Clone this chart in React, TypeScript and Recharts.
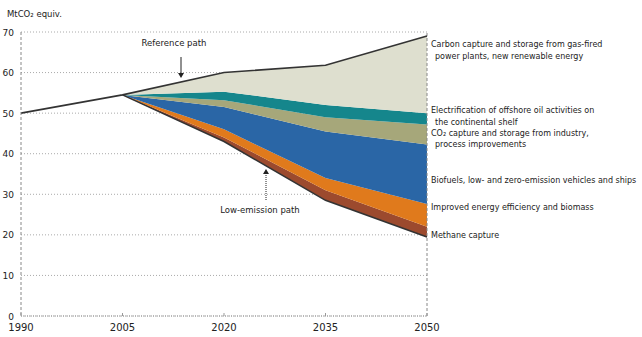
import React from 'react';
import { ComposedChart, Area, Line, XAxis, YAxis, CartesianGrid, ReferenceLine } from 'recharts';

// ---- data ----
const years = [1990, 2005, 2020, 2035, 2050];
const referencePath = [50, 54.5, 60, 61.8, 69];
const lowEmissionPath: (number | null)[] = [null, 54.5, 43, 28.5, 19.5];
// reductions per measure (MtCO2 equiv.), stacked from the low-emission path upward
const methaneCapture: (number | null)[] = [null, 0, 1, 2.5, 2.5];
const energyEfficiency: (number | null)[] = [null, 0, 2, 3, 5.6];
const biofuelsVehicles: (number | null)[] = [null, 0, 5.5, 11.5, 14.7];
const industryCcs: (number | null)[] = [null, 0, 1.7, 3.5, 4.9];
const offshoreElectrification: (number | null)[] = [null, 0, 2.1, 3, 2.8];
const gasPowerCcs: (number | null)[] = [null, 0, 4.7, 9.8, 19];
const yTicks = [0, 10, 20, 30, 40, 50, 60, 70];
const unitLabel = 'MtCO₂ equiv.';

const layers = [
  { key: 'methane', values: methaneCapture, color: '#9c4a2e' },
  { key: 'efficiency', values: energyEfficiency, color: '#e07a1c' },
  { key: 'biofuels', values: biofuelsVehicles, color: '#2a66a6' },
  { key: 'industry', values: industryCcs, color: '#a6a77a' },
  { key: 'electrification', values: offshoreElectrification, color: '#15868c' },
  { key: 'gasccs', values: gasPowerCcs, color: '#dedfcf' },
];

const rightLabels = [
  { lines: ['Carbon capture and storage from gas-fired', 'power plants, new renewable energy'], y: 44 },
  { lines: ['Electrification of offshore oil activities on', 'the continental shelf'], y: 110 },
  { lines: ['CO₂ capture and storage from industry,', 'process improvements'], y: 132.5 },
  { lines: ['Biofuels, low- and zero-emission vehicles and ships'], y: 180 },
  { lines: ['Improved energy efficiency and biomass'], y: 207 },
  { lines: ['Methane capture'], y: 235 },
];

const data = years.map((year, i) => {
  const row: any = { year, ref: referencePath[i], low: lowEmissionPath[i] };
  let base = lowEmissionPath[i];
  layers.forEach((l) => {
    const v = l.values[i];
    if (base === null || v === null) {
      row[l.key] = null;
    } else {
      row[l.key] = [base, base + v];
      base = base + v;
    }
  });
  return row;
});

const FONT = 'DejaVu Sans, Verdana, sans-serif';

const XTick = (props: any) => {
  const { x, y, payload } = props;
  return (
    <g>
      <line x1={x} x2={x} y1={y} y2={y - 3} stroke="#999" />
      <text x={x} y={y + 15} textAnchor="middle" fontSize={10} fontFamily={FONT} fill="#222">
        {payload.value}
      </text>
    </g>
  );
};

const YTick = (props: any) => {
  const { x, y, payload } = props;
  return (
    <text x={x - 7} y={y + 3.5} textAnchor="end" fontSize={9} fontFamily={FONT} fill="#222">
      {payload.value}
    </text>
  );
};

export default function App() {
  return (
    <div style={{ position: 'absolute', left: 0, top: 0, width: 642, height: 337, background: '#fff' }}>
      <ComposedChart width={642} height={337} data={data} margin={{ top: 32, right: 215, bottom: 0, left: 0 }}>
        <CartesianGrid vertical={false} stroke="#aaa" strokeDasharray="1 2" />
        <XAxis
          dataKey="year"
          type="number"
          domain={[1990, 2050]}
          ticks={years}
          height={21}
          tickSize={0}
          tickMargin={0}
          tickLine={false}
          tick={<XTick />}
          axisLine={{ stroke: '#999', strokeDasharray: '1 1' }}
        />
        <YAxis
          domain={[0, 70]}
          ticks={yTicks}
          width={21}
          tickSize={0}
          tickMargin={0}
          tickLine={false}
          tick={<YTick />}
          axisLine={{ stroke: '#888', strokeDasharray: '3 2' }}
        />
        {layers.map((l) => (
          <Area
            key={l.key}
            dataKey={l.key}
            type="linear"
            fill={l.color}
            fillOpacity={1}
            stroke="none"
            isAnimationActive={false}
            connectNulls={false}
          />
        ))}
        <ReferenceLine x={2050} stroke="#888" strokeDasharray="3 2" />
        <Line dataKey="ref" type="linear" stroke="#333" strokeWidth={1.6} dot={false} isAnimationActive={false} />
        <Line dataKey="low" type="linear" stroke="#333" strokeWidth={1.6} dot={false} isAnimationActive={false} />
      </ComposedChart>
      <svg width={642} height={337} style={{ position: 'absolute', left: 0, top: 0, pointerEvents: 'none' }}>
        <text x={7} y={17} fontSize={8.5} fontFamily={FONT} fill="#222">{unitLabel}</text>
        {rightLabels.map((lab, i) =>
          lab.lines.map((t, j) => (
            <text key={i + '-' + j} x={j === 0 ? 431 : 435} y={lab.y + j * 11.5 + 3} fontSize={8} fontFamily={FONT} fill="#222">
              {t}
            </text>
          ))
        )}
        <text x={174} y={46} textAnchor="middle" fontSize={8.5} fontFamily={FONT} fill="#222">Reference path</text>
        <line x1={181} x2={181} y1={57} y2={74} stroke="#222" strokeWidth={1} />
        <path d="M178,73 L184,73 L181,78 Z" fill="#222" />
        <text x={260} y={213} textAnchor="middle" fontSize={8.5} fontFamily={FONT} fill="#222">Low-emission path</text>
        <line x1={266} x2={266} y1={200} y2={173} stroke="#222" strokeWidth={1} strokeDasharray="1 1" />
        <path d="M263,174 L269,174 L266,169 Z" fill="#222" />
      </svg>
    </div>
  );
}
